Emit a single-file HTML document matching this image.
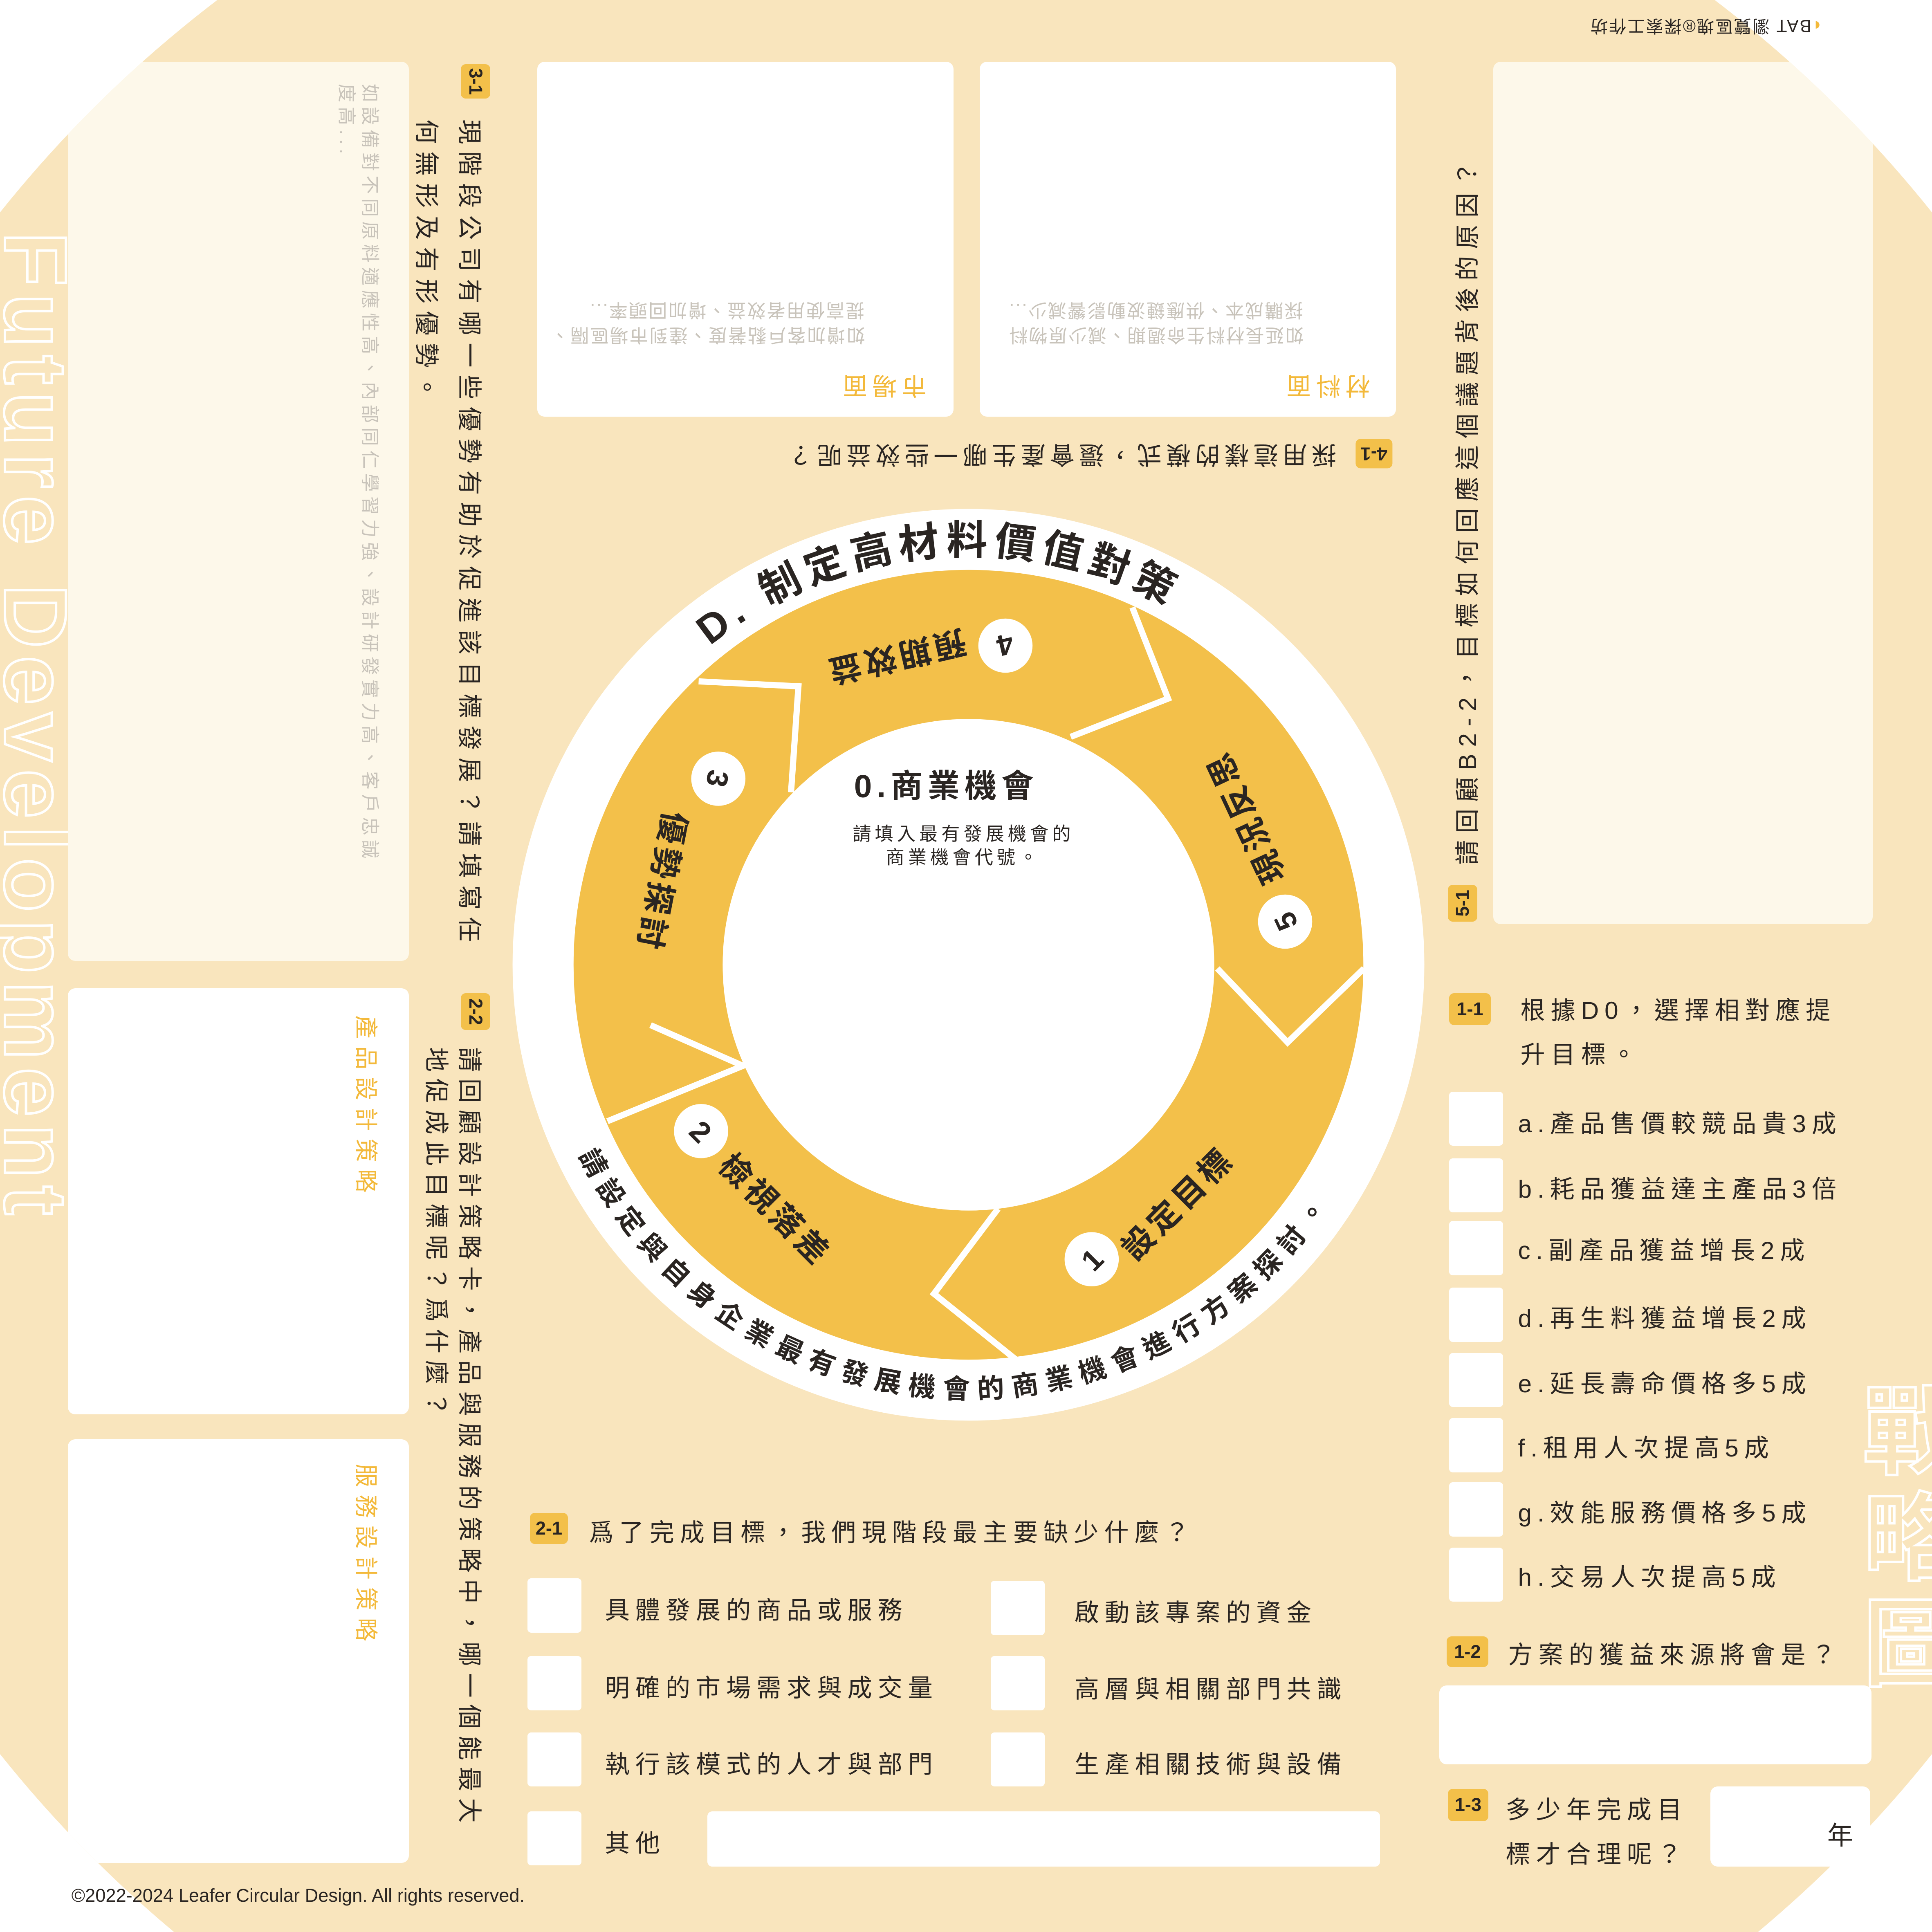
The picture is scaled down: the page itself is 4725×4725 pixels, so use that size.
<!DOCTYPE html>
<html><head><meta charset="utf-8">
<style>
html,body{margin:0;padding:0;background:#fff;}
body{width:4725px;height:4725px;overflow:hidden;position:relative;}
#s{position:absolute;left:0;top:0;width:1568px;height:1568px;zoom:3.01339;font-family:"Liberation Sans","Noto Sans CJK TC",sans-serif;color:#2a2522;overflow:hidden;}
.a{position:absolute;white-space:nowrap;}
.clip{position:absolute;left:0;top:0;width:1568px;height:1568px;clip-path:circle(1003px at 784px 798px);}
.bg{position:absolute;left:0;top:0;width:1568px;height:1568px;background:#f9e5bd;}
.wb{position:absolute;background:#fff;border-radius:6px;}
.lb{position:absolute;background:#fdf8ea;border-radius:6px;}
.tag{position:absolute;background:#f3c04a;border-radius:4px;font-weight:bold;font-size:15px;color:#2a2522;text-align:center;font-family:"Liberation Sans",sans-serif;}
.q{font-size:20px;letter-spacing:4.6px;}
.r90{transform:rotate(90deg);transform-origin:0 0;}
.rm90{transform:rotate(-90deg);transform-origin:0 0;}
.r180{transform:rotate(180deg);}
.yl{color:#f3b93a;}
.gr{color:#c8c3ba;font-size:15px;letter-spacing:1px;}
.cb{position:absolute;background:#fff;border-radius:3px;width:44px;height:44px;}
.out{color:transparent;-webkit-text-stroke:2px #fff;font-weight:bold;}
</style></head><body><div id="s">
<div class="clip">
<div class="bg"></div>
<div class="a out r90" style="left:70px;top:188px;font-size:72px;letter-spacing:6px;font-family:'Liberation Sans',sans-serif;">Future Development</div>
<div class="lb" style="left:55px;top:50px;width:277px;height:730px;"></div>
<div class="wb" style="left:55px;top:802px;width:277px;height:346px;"></div>
<div class="wb" style="left:55px;top:1168px;width:277px;height:344px;"></div>
<div class="lb" style="left:1212px;top:50px;width:308px;height:700px;"></div>
<div class="a out" style="left:1512px;top:1120px;font-size:78px;line-height:86px;width:100px;">戰<br>略<br>圖</div>
</div>

<div class="a r90 gr" style="left:312px;top:68px;letter-spacing:3.6px;">如設備對不同原料適應性高、內部同仁學習力強、設計研發實力高、客戶忠誠</div>
<div class="a r90 gr" style="left:293px;top:68px;letter-spacing:3.6px;">度高...</div>
<div class="tag r90" style="left:398px;top:52px;width:28px;height:24px;line-height:24px;">3-1</div>
<div class="a r90 q" style="left:397px;top:97px;letter-spacing:5.9px;">現階段公司有哪一些優勢有助於促進該目標發展？請填寫任</div>
<div class="a r90 q" style="left:362px;top:97px;letter-spacing:5.9px;">何無形及有形優勢。</div>

<div class="a r90 yl" style="left:312px;top:824px;font-size:19px;letter-spacing:6px;">產品設計策略</div>
<div class="a r90 yl" style="left:312px;top:1188px;font-size:19px;letter-spacing:6px;">服務設計策略</div>
<div class="tag r90" style="left:398px;top:806px;width:30px;height:24px;line-height:24px;">2-2</div>
<div class="a r90 q" style="left:397px;top:850px;letter-spacing:5.4px;">請回顧設計策略卡，產品與服務的策略中，哪一個能最大</div>
<div class="a r90 q" style="left:370px;top:850px;letter-spacing:5.4px;">地促成此目標呢？爲什麼？</div>

<div class="wb" style="left:436px;top:50px;width:338px;height:288px;"></div>
<div class="wb" style="left:795px;top:50px;width:338px;height:288px;"></div>
<div class="a r180 yl" style="left:680px;top:300px;font-size:20px;letter-spacing:4px;">市場面</div>
<div class="a r180 gr" style="left:446px;top:262px;">如增加客戶黏著度、達到市場區隔、</div>
<div class="a r180 gr" style="left:478px;top:242px;">提高使用者效益、增加回頭率...</div>
<div class="a r180 yl" style="left:1040px;top:300px;font-size:20px;letter-spacing:4px;">材料面</div>
<div class="a r180 gr" style="left:818px;top:262px;">如延長材料生命週期、減少原物料</div>
<div class="a r180 gr" style="left:818px;top:242px;">採購成本、供應鏈波動影響減少...</div>
<div class="tag r180" style="left:1100px;top:356px;width:30px;height:24px;line-height:24px;">4-1</div>
<div class="a r180 q" style="left:636px;top:356px;letter-spacing:3.6px;">採用這樣的模式，還會產生哪一些效益呢？</div>
<div class="a r180" style="left:1290px;top:12px;font-size:14px;letter-spacing:1px;"><span style="color:#f3b93a">◖</span>BAT 瀏覽區塊®探索工作坊</div>

<div class="tag rm90" style="left:1175px;top:748px;width:30px;height:24px;line-height:24px;">5-1</div>
<div class="a rm90 q" style="left:1175px;top:702px;letter-spacing:5.6px;">請回顧B2-2，目標如何回應這個議題背後的原因？</div>

<div class="tag" style="left:1176px;top:806px;width:34px;height:26px;line-height:26px;">1-1</div>
<div class="a q" style="left:1234px;top:804px;">根據D0，選擇相對應提</div>
<div class="a q" style="left:1234px;top:840px;">升目標。</div>

<div class="cb" style="left:1176px;top:886px;"></div><div class="a q" style="left:1232px;top:896px;">a.產品售價較競品貴3成</div>
<div class="cb" style="left:1176px;top:940px;"></div><div class="a q" style="left:1232px;top:949px;">b.耗品獲益達主產品3倍</div>
<div class="cb" style="left:1176px;top:991px;"></div><div class="a q" style="left:1232px;top:999px;">c.副產品獲益增長2成</div>
<div class="cb" style="left:1176px;top:1045px;"></div><div class="a q" style="left:1232px;top:1054px;">d.再生料獲益增長2成</div>
<div class="cb" style="left:1176px;top:1098px;"></div><div class="a q" style="left:1232px;top:1107px;">e.延長壽命價格多5成</div>
<div class="cb" style="left:1176px;top:1151px;"></div><div class="a q" style="left:1232px;top:1159px;">f.租用人次提高5成</div>
<div class="cb" style="left:1176px;top:1203px;"></div><div class="a q" style="left:1232px;top:1212px;">g.效能服務價格多5成</div>
<div class="cb" style="left:1176px;top:1256px;"></div><div class="a q" style="left:1232px;top:1264px;">h.交易人次提高5成</div>

<div class="tag" style="left:1174px;top:1328px;width:34px;height:25px;line-height:25px;">1-2</div>
<div class="a q" style="left:1224px;top:1327px;">方案的獲益來源將會是？</div>
<div class="wb" style="left:1168px;top:1368px;width:351px;height:64px;"></div>
<div class="tag" style="left:1175px;top:1452px;width:33px;height:26px;line-height:26px;">1-3</div>
<div class="a q" style="left:1222px;top:1453px;">多少年完成目</div>
<div class="a q" style="left:1222px;top:1489px;">標才合理呢？</div>
<div class="wb" style="left:1388px;top:1450px;width:130px;height:65px;"></div>
<div class="a" style="left:1483px;top:1473px;font-size:21px;">年</div>

<div class="tag" style="left:430px;top:1228px;width:31px;height:25px;line-height:25px;">2-1</div>
<div class="a q" style="left:478px;top:1228px;">爲了完成目標，我們現階段最主要缺少什麼？</div>
<div class="cb" style="left:428px;top:1281px;"></div><div class="a q" style="left:491px;top:1291px;">具體發展的商品或服務</div>
<div class="cb" style="left:428px;top:1344px;"></div><div class="a q" style="left:491px;top:1354px;">明確的市場需求與成交量</div>
<div class="cb" style="left:428px;top:1406px;"></div><div class="a q" style="left:491px;top:1416px;">執行該模式的人才與部門</div>
<div class="cb" style="left:428px;top:1470px;"></div><div class="a q" style="left:491px;top:1480px;">其他</div>
<div class="cb" style="left:804px;top:1283px;"></div><div class="a q" style="left:872px;top:1293px;">啟動該專案的資金</div>
<div class="cb" style="left:804px;top:1344px;"></div><div class="a q" style="left:872px;top:1355px;">高層與相關部門共識</div>
<div class="cb" style="left:804px;top:1406px;"></div><div class="a q" style="left:872px;top:1416px;">生產相關技術與設備</div>
<div class="wb" style="left:574px;top:1470px;width:546px;height:45px;border-radius:4px;"></div>

<div class="a" style="left:58px;top:1530px;font-size:15px;">©2022-2024 Leafer Circular Design. All rights reserved.</div>

<svg class="a" style="left:0;top:0;" width="1568" height="1568" viewBox="0 0 1568 1568">
<defs>
<path id="top" d="M 453 783 A 333 333 0 0 1 1119 783"/>
<path id="bot" d="M 434 783 A 352 352 0 0 0 1138 783"/>
</defs>
<circle cx="786" cy="783" r="370" fill="#fff"/>
<circle cx="786" cy="783" r="260" fill="none" stroke="#f3c04a" stroke-width="121"/>
<g fill="none" stroke="#fff" stroke-width="5" stroke-linejoin="miter">
<polyline points="919,493 948,567 869,598"/>
<polyline points="567,553 648,557 642,643"/>
<polyline points="528,832 603,865 493,910"/>
<polyline points="810,981 758,1050 824,1103"/>
<polyline points="988,786 1045,846 1107,786"/>
</g>
<circle cx="786" cy="783" r="199" fill="#fff"/>
<text font-size="33" font-weight="bold" fill="#2a2522" letter-spacing="5" font-family="Liberation Sans,Noto Sans CJK TC,sans-serif"><textPath href="#top" startOffset="296">D. 制定高材料價值對策</textPath></text>
<text font-size="22" font-weight="bold" fill="#2a2522" letter-spacing="6.6" font-family="Liberation Sans,Noto Sans CJK TC,sans-serif"><textPath href="#bot" startOffset="160">請設定與自身企業最有發展機會的商業機會進行方案探討。</textPath></text>
<g fill="#fff"><circle cx="886" cy="1022" r="22"/><circle cx="569" cy="918" r="22"/><circle cx="583" cy="632" r="22"/><circle cx="816" cy="524" r="22"/><circle cx="1043" cy="748" r="22"/></g>
<g font-family="Liberation Sans,Noto Sans CJK TC,sans-serif" font-weight="bold" fill="#2a2522" text-anchor="middle">
<text font-size="24" transform="translate(886,1022) rotate(-45)" dy="9">1</text>
<text font-size="24" transform="translate(569,918) rotate(45)" dy="9">2</text>
<text font-size="24" transform="translate(583,632) rotate(101)" dy="9">3</text>
<text font-size="24" transform="translate(816,524) rotate(167)" dy="9">4</text>
<text font-size="24" transform="translate(1043,748) rotate(-115)" dy="9">5</text>
<text font-size="26" letter-spacing="3" transform="translate(956,977) rotate(-45)" dy="9">設定目標</text>
<text font-size="26" letter-spacing="3" transform="translate(629,982) rotate(45)" dy="9">檢視落差</text>
<text font-size="26" letter-spacing="3" transform="translate(537,716) rotate(101)" dy="9">優勢探討</text>
<text font-size="26" letter-spacing="3" transform="translate(727,533) rotate(167)" dy="9">預期效益</text>
<text font-size="26" letter-spacing="3" transform="translate(1011,663) rotate(-115)" dy="9">現況反思</text>
<text x="768" y="647" font-size="26" letter-spacing="4">0.商業機會</text>
<text x="782" y="682" font-size="15" font-weight="normal" letter-spacing="3">請填入最有發展機會的</text>
<text x="782" y="701" font-size="15" font-weight="normal" letter-spacing="3">商業機會代號。</text>
</g>
</svg>
</div></body></html>
